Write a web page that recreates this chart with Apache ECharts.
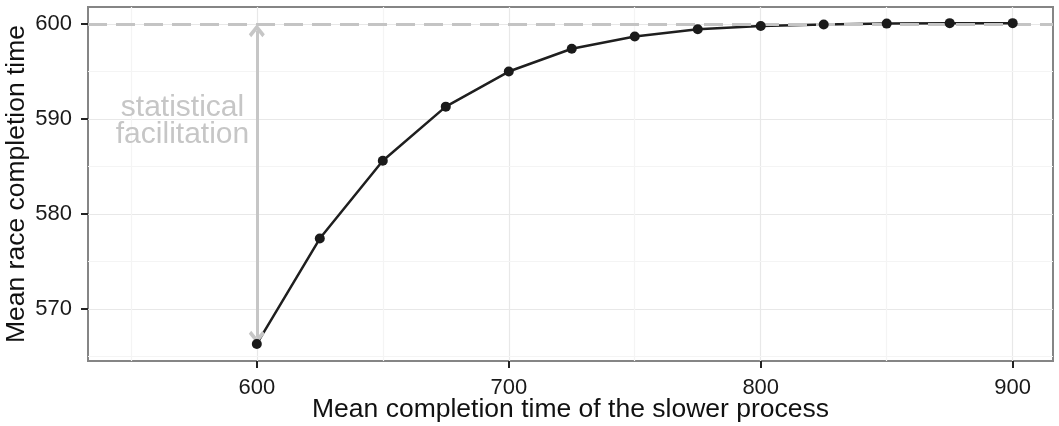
<!DOCTYPE html>
<html><head><meta charset="utf-8">
<script src="https://cdn.jsdelivr.net/npm/echarts@6/dist/echarts.min.js"></script>
<style>html,body{margin:0;padding:0;background:#fff}#c{width:1059px;height:426px}</style>
</head><body><div id="c"></div>
<script>
const slowerMeans = [600, 625, 650, 675, 700, 725, 750, 775, 800, 825, 850, 875, 900];
const raceMeans = [566.3, 577.4, 585.6, 591.3, 595.0, 597.4, 598.7, 599.45, 599.8, 599.95, 600.05, 600.1, 600.1];
const xTicks = [600, 700, 800, 900];
const yTicks = [570, 580, 590, 600];
const xMinor = [550, 650, 750, 850];
const yMinor = [565, 575, 585, 595];
const referenceValue = 600;
const annotationText = 'statistical\nfacilitation';
const xTitle = 'Mean completion time of the slower process';
const yTitle = 'Mean race completion time';

const font = 'Liberation Sans, Arial, Helvetica, sans-serif';
const chevron = 'path://M0,0 L10,10 L7,13 L0,6 L-7,13 L-10,10 Z';
const headInset = 0.7; // pull arrow line in so heads' tips land on the ends
const pts = slowerMeans.map((x, i) => [x, raceMeans[i]]);

const chart = echarts.init(document.getElementById('c'));
chart.setOption({
  animation: false,
  grid: {left: 88, right: 6, top: 7, bottom: 65, outerBoundsMode: 'none', containLabel: false, show: true, borderColor: '#858585', borderWidth: 2, backgroundColor: 'transparent'},
  xAxis: {
    type: 'value', min: 533, max: 916,
    name: xTitle, nameLocation: 'middle', nameGap: 35, nameMoveOverlap: false,
    nameTextStyle: {fontFamily: font, fontSize: 26.5, color: '#111'},
    axisLine: {show: false},
    axisTick: {show: true, length: 7, inside: false, customValues: xTicks, lineStyle: {color: '#222', width: 2}},
    axisLabel: {customValues: xTicks, margin: 16, fontFamily: font, fontSize: 22, color: '#1a1a1a'},
    splitLine: {show: true, lineStyle: {color: '#e8e8e8', width: 1.2}}
  },
  yAxis: {
    type: 'value', min: 564.5, max: 601.8,
    name: yTitle, nameLocation: 'middle', nameGap: 58, nameRotate: 90, nameMoveOverlap: false,
    nameTextStyle: {fontFamily: font, fontSize: 26.5, color: '#111'},
    axisLine: {show: false},
    axisTick: {show: true, length: 7, inside: false, customValues: yTicks, lineStyle: {color: '#222', width: 2}},
    axisLabel: {customValues: yTicks, margin: 16, fontFamily: font, fontSize: 22, color: '#1a1a1a'},
    splitLine: {show: true, lineStyle: {color: '#e8e8e8', width: 1.2}}
  },
  series: [
    {
      type: 'line', data: [], z: 0, silent: true,
      markLine: {
        z: 0, silent: true, symbol: ['none', 'none'], label: {show: false},
        lineStyle: {color: '#f4f4f4', width: 1.2, type: 'solid'},
        data: xMinor.map(v => ({xAxis: v})).concat(yMinor.map(v => ({yAxis: v})))
      }
    },
    {
      type: 'line', data: pts, z: 2, symbol: 'none',
      lineStyle: {color: '#1f1f1f', width: 2.5}
    },
    {
      type: 'line', data: [], z: 3, silent: true,
      markLine: {
        z: 3, silent: true, symbol: ['none', 'none'], label: {show: false},
        lineStyle: {color: '#c4c4c4', width: 3, type: [19, 9]},
        data: [{yAxis: referenceValue}]
      }
    },
    {
      type: 'line', data: [], z: 3, silent: true,
      markLine: {
        z: 3, silent: true, symbol: [chevron, chevron], symbolSize: [16, 13], symbolKeepAspect: false,
        label: {show: false},
        lineStyle: {color: '#c6c6c6', width: 3, type: 'solid'},
        data: [[{coord: [slowerMeans[0], referenceValue - headInset]}, {coord: [slowerMeans[0], raceMeans[0] + headInset]}]]
      },
      markPoint: {
        z: 3, silent: true, symbol: 'circle', symbolSize: 0,
        label: {show: true, position: 'inside', formatter: annotationText, fontFamily: font, fontSize: 30, color: '#c6c6c6', lineHeight: 27, align: 'center'},
        data: [{coord: [570.5, 589.8]}]
      }
    },
    {
      type: 'scatter', data: pts, z: 4, symbol: 'circle', symbolSize: 10,
      itemStyle: {color: '#1a1a1a', opacity: 1, borderWidth: 0}
    }
  ]
});
</script></body></html>
